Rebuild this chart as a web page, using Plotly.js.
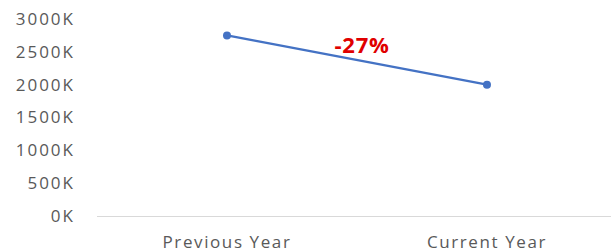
<!DOCTYPE html>
<html><head><meta charset="utf-8">
<script src="https://cdn.plot.ly/plotly-3.0.1.min.js"></script>
<style>
html,body{margin:0;padding:0;background:#fff;}
#chart{width:611px;height:250px;}
#chart .xtick text{letter-spacing:1.6px;}
#chart .ytick text{letter-spacing:2px;}
#chart .annotation-text{letter-spacing:0.8px;}
</style>
</head><body><div id="chart"></div>
<script>
const categories = ["Previous Year", "Current Year"];
const values = [2750000, 2000000];
const changeLabel = "-27%";
const yTickVals = [0, 500000, 1000000, 1500000, 2000000, 2500000, 3000000];
const yTickText = ["0K", "500K", "1000K", "1500K", "2000K", "2500K", "3000K"];

const trace = {
  x: categories, y: values, type: "scatter", mode: "lines+markers",
  line: {color: "#4472C4", width: 2.3},
  marker: {color: "#4472C4", size: 8},
  hoverinfo: "skip"
};
const layout = {
  width: 611, height: 250,
  margin: {l: 97, r: 0, t: 19, b: 34},
  paper_bgcolor: "#fff", plot_bgcolor: "#fff",
  showlegend: false,
  font: {family: "Open Sans", size: 16, color: "#595959"},
  xaxis: {
    type: "category", range: [-0.5, 1.477], showgrid: false, zeroline: false,
    showline: true, linecolor: "#d9d9d9", linewidth: 1, ticks: "",
    tickfont: {family: "Open Sans", size: 17, color: "#595959"},
    ticklabelstandoff: 11, fixedrange: true
  },
  yaxis: {
    range: [0, 3000000], showgrid: false, zeroline: false, showline: false,
    tickvals: yTickVals, ticktext: yTickText, ticks: "",
    tickfont: {family: "Open Sans", size: 17, color: "#595959"},
    ticklabelstandoff: 21, fixedrange: true
  },
  annotations: [{
    x: 0.519, y: 2620000, xref: "x", yref: "y", text: "<b>" + changeLabel + "</b>",
    showarrow: false, font: {family: "Open Sans", size: 22, color: "#E00000"}
  }]
};
Plotly.newPlot("chart", [trace], layout, {staticPlot: true, displayModeBar: false});
</script></body></html>
